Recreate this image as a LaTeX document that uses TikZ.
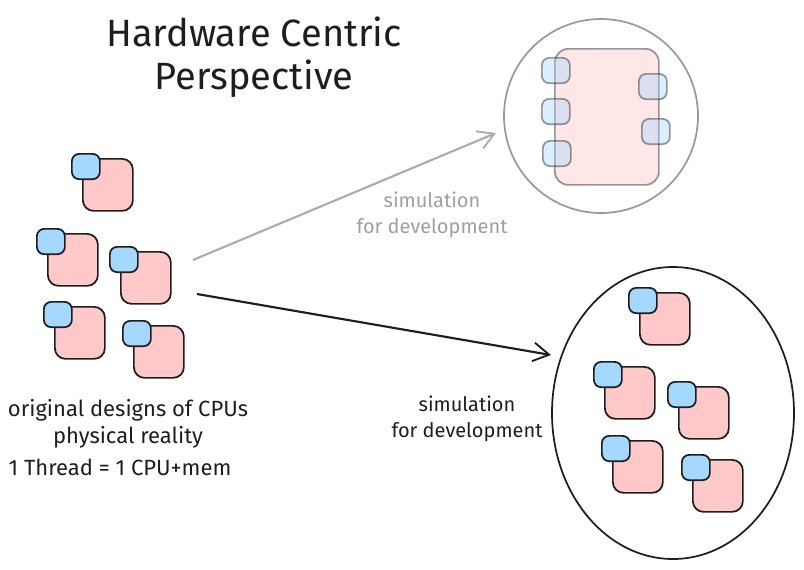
\documentclass[tikz,border=0pt]{standalone}
\usepackage{fontspec}
\setmainfont{Fira Sans}
\usetikzlibrary{arrows.meta,shapes.geometric}

\definecolor{mempink}{HTML}{FFC9C9}
\definecolor{coreblue}{HTML}{A5D8FF}
\definecolor{inkline}{HTML}{1E1E1E}

\tikzset{
  membox/.style = {draw = inkline, fill = mempink, line width = 1.3pt,
    rounded corners = 8pt, minimum width = 37.5pt, minimum height = 39pt,
    inner sep = 0pt, anchor = north west},
  corebox/.style = {draw = inkline, fill = coreblue, line width = 1.3pt,
    rounded corners = 5.5pt, minimum width = 21pt, minimum height = 19pt,
    inner sep = 0pt, anchor = north west},
  cpu/.pic = {
    \node[membox] (-mem) at (0, 0) {};
    \node[corebox] (-core) at (-11, -5) {};
  },
  sketchtext/.style = {font = \fontsize{15}{19.5}\selectfont, align = center,
    text = inkline},
  flow/.style = {line width = 1.6pt,
    -{Straight Barb[length = 12pt, width = 14pt, line width = 1.4pt]}}
}

\begin{document}
\begin{tikzpicture}[x = 0.75pt, y = -0.75pt]
  \useasboundingbox (0, 0) rectangle (804, 569);
  % title
  \node[font = \fontsize{28.5}{32.5}\selectfont, align = center, text = inkline]
  (title) at (254, 57) {Hardware Centric\\Perspective};
  % cpus as they really are
  \foreach \x/\y [count = \i] in {82/158, 47/233, 120/251, 54/306, 133/325}
    \pic (real\i) at (\x, \y) {cpu};
  \node[sketchtext, font = \fontsize{16.5}{20.5}\selectfont] (reallabel)
  at (128, 424) {original designs of CPUs\\physical reality};
  \node[sketchtext, font = \fontsize{16.5}{20.5}\selectfont, anchor = west]
  (threadlabel) at (4, 467) {1 Thread = 1 CPU+mem};
  % faded simulation (one big memory)
  \begin{scope}[draw opacity = 0.45]
    \node[draw = inkline, line width = 1.3pt, circle, minimum size = 145.5pt]
    (simbig) at (601, 116) {};
    \node[draw = inkline, fill = mempink, fill opacity = 0.45,
    line width = 1.3pt, rounded corners = 10pt, minimum width = 78pt,
    minimum height = 102pt, inner sep = 0pt, anchor = north west]
    (bigmem) at (554, 48) {};
    \foreach \x/\y [count = \i] in {541/57, 541/98, 542/140, 638/73, 641/118}
      \node[corebox, fill opacity = 0.4] (port\i) at (\x, \y) {};
  \end{scope}
  \node[sketchtext, text = gray!75] (simlabel) at (432, 215)
  {simulation\\for development};
  % simulation with many cpus
  \node[draw = inkline, line width = 1.3pt, ellipse, minimum width = 181.5pt,
  minimum height = 219pt] (simmany) at (673, 413) {};
  \foreach \x/\y [count = \i] in {639/292, 604/366, 678/386, 612/440, 692/459}
    \pic (sim\i) at (\x, \y) {cpu};
  \node[sketchtext] (devlabel) at (467, 419) {simulation\\for development};
  % arrows
  \coordinate (graystart) at (193, 260);
  \coordinate (graytip) at (496, 133);
  \coordinate (blackstart) at (197, 294);
  \coordinate (blacktip) at (551, 355);
  \draw[flow, draw = gray!65] (graystart) -- (graytip);
  \draw[flow, draw = inkline] (blackstart) -- (blacktip);
\end{tikzpicture}
\end{document}
